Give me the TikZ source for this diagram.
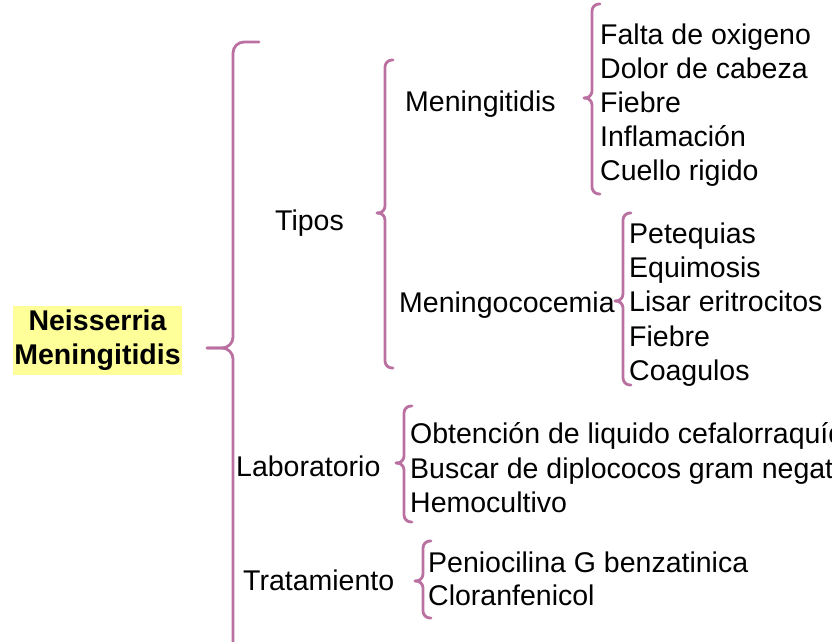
\documentclass[tikz,border=0pt]{standalone}
\usepackage{fontspec}
\setmainfont{Liberation Sans}
\usetikzlibrary{positioning}
\definecolor{brcol}{RGB}{186,112,160}
\definecolor{ttlyel}{RGB}{255,255,153}
\tikzset{
  % brace lines
  brc/.style={draw=brcol,line width=2.8pt,line cap=round,line join=round},
  % plain text items
  TX/.style={anchor=base west,inner sep=0pt,font=\fontsize{28.5}{34}\selectfont},
  % title box
  TT/.style={fill=ttlyel,minimum width=169pt,minimum height=69pt,align=center,
             inner sep=0pt,font=\fontsize{28.5}{34}\selectfont\bfseries},
}
% curly brace: x, top, tip, bottom, hook width, corner radius
\newcommand\Brc[6]{%
  \draw[brc,rounded corners=#6] (#1+#5,#2) -- (#1,#2) -- (#1,#3) -- (#1-#5,#3);
  \draw[brc,rounded corners=#6] (#1-#5,#3) -- (#1,#3) -- (#1,#4) -- (#1+#5,#4);}
\begin{document}
\begin{tikzpicture}[x=1pt,y=-1pt]
\useasboundingbox (0,0) rectangle (832,642);
\clip (0,0) rectangle (832,642);
% ── title ─────────────────────────────
\node[TT] at (97.5,340.5) (ttl) {Neisserria\\Meningitidis};
\Brc{233}{42}{348}{690}{26}{11}
% ── first level ───────────────────────
\node[TX] at (275,230) (tipos) {Tipos};
\node[TX] at (236,476) (lab) {Laboratorio};
\node[TX] at (243,590) (trat) {Tratamiento};
% ── Tipos ─────────────────────────────
\Brc{385}{60}{213}{368}{8}{7}
\node[TX] at (405,111) (mgt) {Meningitidis};
\node[TX] at (399,312) (mgc) {Meningococemia};
% Meningitidis
\Brc{592}{4}{98}{194}{8}{7}
\foreach \t [count=\i] in {Falta de oxigeno,Dolor de cabeza,Fiebre,Inflamación,Cuello rigido}
  \node[TX] at (600,45+33.75*\i-33.75) (mgt\i) {\t};
% Meningococemia
\Brc{623}{213}{301}{385}{8}{7}
\foreach \t [count=\i] in {Petequias,Equimosis,Lisar eritrocitos,Fiebre,Coagulos}
  \node[TX] at (629,243+34.4*\i-34.4) (mgc\i) {\t};
% ── Laboratorio ───────────────────────
\Brc{404}{406}{463}{522}{8}{7}
\node[TX] at (410,443.5) (lab1) {Obtención de liquido cefalorraquídeo};
\node[TX] at (410,478) (lab2) {Buscar de diplococos gram negativos};
\node[TX] at (410,512) (lab3) {Hemocultivo};
% ── Tratamiento ───────────────────────
\Brc{423}{541}{581}{618}{8}{7}
\node[TX] at (428,572) (trat1) {Peniocilina G benzatinica};
\node[TX] at (428,605.5) (trat2) {Cloranfenicol};
\end{tikzpicture}
\end{document}
